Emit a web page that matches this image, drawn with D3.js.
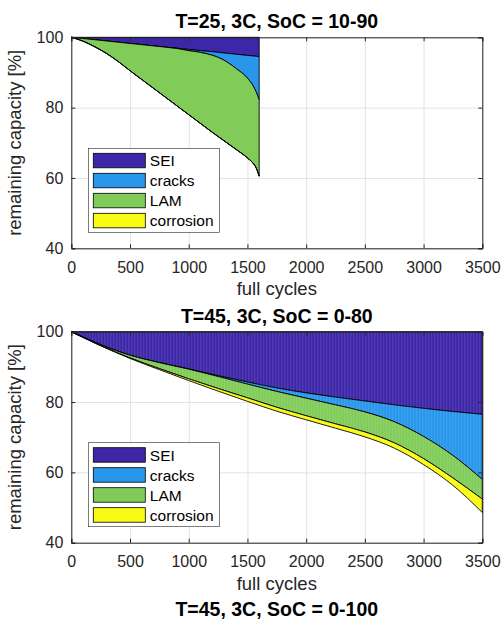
<!DOCTYPE html>
<html lang="en">
<head>
<meta charset="UTF-8">
<title>Capacity loss by mechanism</title>
<script src="https://d3js.org/d3.v7.min.js"></script>
<style>
  body { margin: 0; background: #fff; font-family: "Liberation Sans", Arial, sans-serif; }
  .tick text { font-size: 16px; fill: #262626; font-family: "Liberation Sans", Arial, sans-serif; }
  .title { font-size: 19.5px; font-weight: bold; text-anchor: middle; fill: #000; }
  .label { font-size: 18.5px; fill: #262626; text-anchor: middle; }
  .legend text { font-size: 15.5px; fill: #000; }
</style>
</head>
<body>
<div id="chart"></div>
<script>
// mechanisms, stacked downward from 100 %
const mechanisms = ["SEI", "cracks", "LAM", "corrosion"];
const colors = ["#3e26a8", "#2796eb", "#81cc59", "#f9fb15"];

// panel 1: T=25, 3C, SoC 10-90 (capacity loss per mechanism, %)
const cycles1 = [0, 100, 200, 300, 400, 500, 600, 700, 800, 900, 1000, 1100, 1200, 1300, 1400, 1500, 1550, 1575, 1600];
const sei1 = [0, 0.35, 0.7, 1.05, 1.4, 1.75, 2.1, 2.45, 2.8, 3.1, 3.45, 3.8, 4.1, 4.45, 4.8, 5.15, 5.3, 5.4, 5.5];
const cracks1 = [0, 0, 0, 0, 0, 0, 0, 0, 0, 0.1, 0.35, 0.5, 1.0, 2.05, 4.0, 6.45, 8.6, 10.2, 12.3];
const lam1 = [0, 0.75, 2.0, 3.55, 5.5, 7.75, 9.9, 12.05, 14.2, 16.3, 18.2, 20.2, 21.9, 22.9, 23.0, 22.7, 22.0, 21.6, 21.7];
const corrosion1 = [0, 0, 0, 0, 0, 0, 0, 0, 0, 0, 0, 0, 0, 0, 0, 0, 0, 0, 0];

// panel 2: T=45, 3C, SoC 0-80
const cycles2 = [0, 250, 500, 750, 1000, 1250, 1500, 1750, 2000, 2250, 2500, 2750, 3000, 3250, 3500];
const sei2 = [0, 3.7, 6.7, 8.8, 10.6, 12.5, 14.3, 16.0, 17.4, 18.6, 19.7, 20.8, 21.8, 22.7, 23.5];
const cracks2 = [0, 0, 0, 0, 0.05, 0.25, 0.6, 1.0, 1.5, 2.2, 3.1, 4.8, 8.0, 12.5, 18.5];
const lam2 = [0, 0.25, 0.75, 1.7, 2.75, 3.4, 3.9, 4.5, 5.0, 5.4, 5.7, 6.0, 6.3, 6.4, 5.6];
const corrosion2 = [0, 0.05, 0.15, 0.3, 0.5, 0.75, 1.0, 1.1, 1.15, 1.25, 1.4, 1.5, 1.7, 2.1, 3.8];

const xTicks = [0, 500, 1000, 1500, 2000, 2500, 3000, 3500];
const yTicks = [40, 60, 80, 100];

const panels = [
  { title: "T=25, 3C, SoC = 10-90", top: 37.3, cycles: cycles1, series: [sei1, cracks1, lam1, corrosion1], stripes: false },
  { title: "T=45, 3C, SoC = 0-80", top: 331.7, cycles: cycles2, series: [sei2, cracks2, lam2, corrosion2], stripes: true }
];
const nextTitle = "T=45, 3C, SoC = 0-100";

const W = 501, H = 619;
const left = 71.3, pw = 411, ph = 211;

const svg = d3.select("#chart").append("svg")
  .attr("width", W).attr("height", H);

// faint vertical stripes like the moire in the dense second panel
const defs = svg.append("defs");
const pat = defs.append("pattern").attr("id", "stripes")
  .attr("patternUnits", "userSpaceOnUse").attr("width", 3).attr("height", 10);
pat.append("rect").attr("x", 0).attr("y", 0).attr("width", 1).attr("height", 10)
  .attr("fill", "#fff").attr("opacity", 0.13);

const x = d3.scaleLinear().domain([0, 3500]).range([0, pw]);
const y = d3.scaleLinear().domain([40, 100]).range([ph, 0]);

panels.forEach((p, pi) => {
  const g = svg.append("g").attr("transform", `translate(${left},${p.top})`);

  // grid behind data
  g.append("g").attr("transform", `translate(0,${ph})`)
    .call(d3.axisBottom(x).tickValues(xTicks).tickSize(-ph).tickFormat(""))
    .call(a => a.select(".domain").remove())
    .selectAll("line").attr("stroke", "#e3e3e3").attr("stroke-width", 1);
  g.append("g")
    .call(d3.axisLeft(y).tickValues(yTicks).tickSize(-pw).tickFormat(""))
    .call(a => a.select(".domain").remove())
    .selectAll("line").attr("stroke", "#e3e3e3").attr("stroke-width", 1);

  const rows = p.cycles.map((c, i) => {
    const r = { cycles: c };
    mechanisms.forEach((m, k) => r[m] = p.series[k][i]);
    return r;
  });
  const stacked = d3.stack().keys(mechanisms)(rows);

  const area = d3.area()
    .x(d => x(d.data.cycles))
    .y0(d => y(100 - d[0]))
    .y1(d => y(100 - d[1]))
    .curve(d3.curveMonotoneX);

  stacked.forEach((s, k) => {
    g.append("path").datum(s)
      .attr("d", area)
      .attr("fill", colors[k])
      .attr("stroke", "#000")
      .attr("stroke-width", 0.9);
    if (p.stripes) {
      g.append("path").datum(s).attr("d", area).attr("fill", "url(#stripes)");
    }
  });

  // axes with inward ticks on all four sides
  const tl = 4;
  const axes = g.append("g").attr("class", "axes");
  axes.append("g").attr("transform", `translate(0,${ph})`)
    .call(d3.axisBottom(x).tickValues(xTicks).tickSize(-tl).tickPadding(13).tickFormat(d3.format("d")));
  axes.append("g")
    .call(d3.axisTop(x).tickValues(xTicks).tickSize(-tl).tickFormat(""));
  axes.append("g")
    .call(d3.axisLeft(y).tickValues(yTicks).tickSize(-tl).tickPadding(8));
  axes.append("g").attr("transform", `translate(${pw},0)`)
    .call(d3.axisRight(y).tickValues(yTicks).tickSize(-tl).tickFormat(""));
  axes.selectAll(".domain, .tick line").attr("stroke", "#262626").attr("stroke-width", 1);

  g.append("text").attr("class", "title")
    .attr("x", pw / 2).attr("y", -9).text(p.title);
  g.append("text").attr("class", "label")
    .attr("x", pw / 2).attr("y", ph + 47).text("full cycles");
  g.append("text").attr("class", "label")
    .attr("transform", `translate(-50,${ph / 2}) rotate(-90)`)
    .text("remaining capacity [%]");

  // legend
  const lg = g.append("g").attr("class", "legend").attr("transform", "translate(17,111)");
  lg.append("rect").attr("width", 131).attr("height", 84)
    .attr("fill", "#fff").attr("stroke", "#262626").attr("stroke-width", 0.6);
  mechanisms.forEach((m, k) => {
    const row = lg.append("g").attr("transform", `translate(5,${5 + k * 20})`);
    row.append("rect").attr("width", 52).attr("height", 14.5)
      .attr("fill", colors[k]).attr("stroke", "#000").attr("stroke-width", 0.8);
    row.append("text").attr("x", 56.5).attr("y", 7.5).attr("dy", "0.35em").text(m);
  });
});

svg.append("text").attr("class", "title")
  .attr("x", left + pw / 2).attr("y", 616).text(nextTitle);
</script>
</body>
</html>
